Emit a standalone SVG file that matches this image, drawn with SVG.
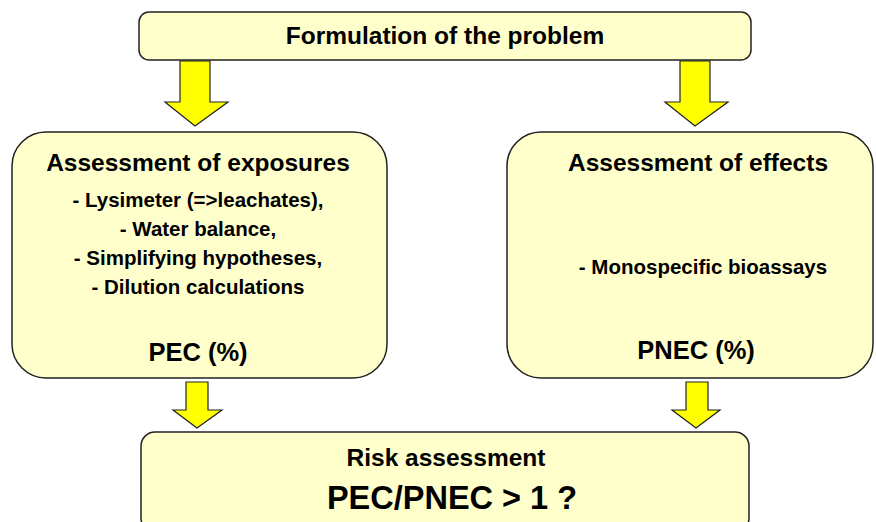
<svg xmlns="http://www.w3.org/2000/svg" width="876" height="522" viewBox="0 0 876 522">
<style>
.box{fill:#FFFFCC;stroke:#222;stroke-width:1.5}
.arr{fill:#FFFF00;stroke:#222;stroke-width:1.2}
text{font-family:"Liberation Sans",Arial,sans-serif;font-weight:bold;fill:#000;text-anchor:middle}
.t{font-size:24.5px}
.s{font-size:20.5px}
.b{font-size:25.5px}
.xb{font-size:32.5px}
</style>
<rect width="876" height="522" fill="#fff"/>
<g id="connectors">
<polygon class="arr" points="180,61 210,61 210,102 228,102 195,126 165,102 180,102"/>
<polygon class="arr" points="680,61 710,61 710,102 728,102 695,126 665,102 680,102"/>
<polygon class="arr" points="186,382 208,382 208,410 222,410 197,428 173,410 186,410"/>
<polygon class="arr" points="686,382 708,382 708,410 720,410 696,428 672,410 686,410"/>
</g>
<g id="formulation">
<rect class="box" x="139" y="12" width="612" height="48" rx="10"/>
<text class="t" x="445" y="44">Formulation of the problem</text>
</g>
<g id="exposures">
<rect class="box" x="12" y="132" width="375" height="246" rx="34"/>
<text class="t" x="198" y="171">Assessment of exposures</text>
<text class="s" x="198" y="207">- Lysimeter (=&gt;leachates),</text>
<text class="s" x="198" y="236">- Water balance,</text>
<text class="s" x="198" y="265">- Simplifying hypotheses,</text>
<text class="s" x="198" y="294">- Dilution calculations</text>
<text class="b" x="198" y="361">PEC (%)</text>
</g>
<g id="effects">
<rect class="box" x="507" y="132" width="366" height="246" rx="34"/>
<text class="t" x="698" y="171">Assessment of effects</text>
<text class="s" x="703" y="274">- Monospecific bioassays</text>
<text class="b" x="696" y="359">PNEC (%)</text>
</g>
<g id="risk">
<rect class="box" x="141" y="432" width="608" height="100" rx="14"/>
<text class="t" x="446" y="466">Risk assessment</text>
<text class="xb" x="452" y="509">PEC/PNEC &gt; 1 ?</text>
</g>
</svg>
